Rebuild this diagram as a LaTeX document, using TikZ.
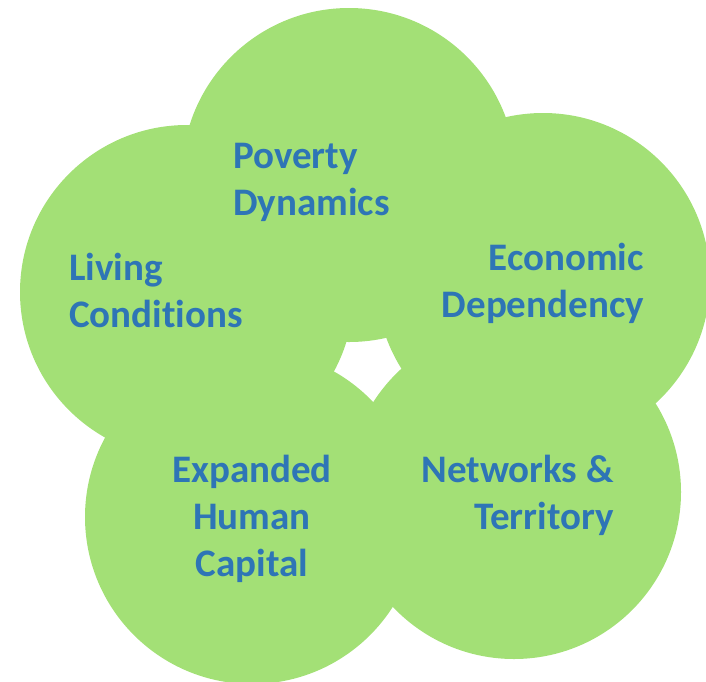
\documentclass[tikz,border=0pt]{standalone}
\usepackage{fontspec}
\setmainfont{Carlito}[Ligatures=NoCommon]
\definecolor{petal}{HTML}{A3E076}
\definecolor{labelblue}{HTML}{2E75B6}
\begin{document}
\begin{tikzpicture}[x=1pt,y=-1pt,
  petalshape/.style={circle, fill=petal, minimum size=334pt, inner sep=0pt},
  lbl/.style={text=labelblue, font=\fontsize{39}{47}\selectfont\bfseries, inner sep=0pt}]
\useasboundingbox (0,0) rectangle (706,681);
\node[petalshape] (ptop) at (349,175) {};
\node[petalshape] (pleft) at (187,292) {};
\node[petalshape] (pright) at (543,280) {};
\node[petalshape] (pbl) at (252,517) {};
\node[petalshape] (pbr) at (514,492) {};
\node[lbl, anchor=base west, align=left] (tpov) at (233,215) {Poverty\\Dynamics};
\node[lbl, anchor=base west, align=left] (tliv) at (69,327) {Living\\Conditions};
\node[lbl, anchor=base east, align=right] (teco) at (644,317) {Economic\\Dependency};
\node[lbl, anchor=base, align=center] (texp) at (252,576) {Expanded\\Human\\Capital};
\node[lbl, anchor=base east, align=right] (tnet) at (614,529) {Networks \&\\Territory};
\end{tikzpicture}
\end{document}
